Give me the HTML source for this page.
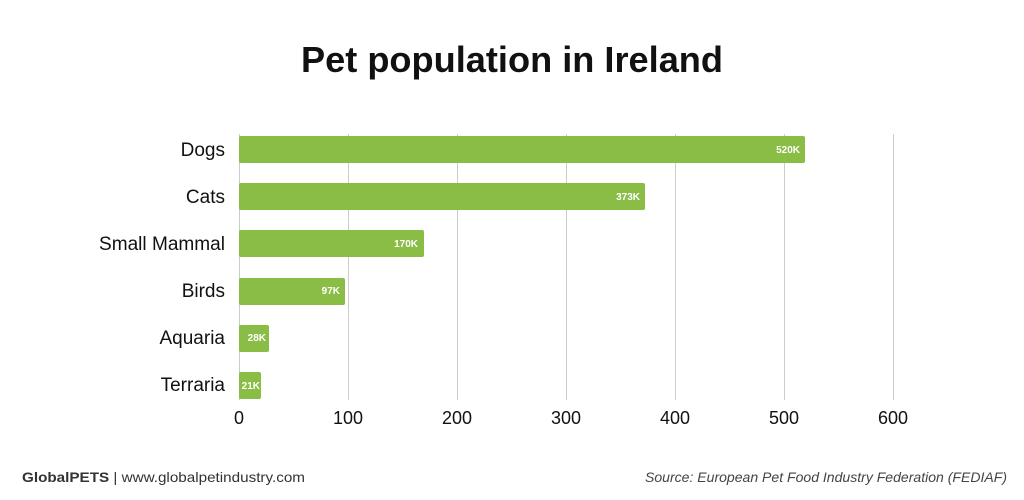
<!DOCTYPE html>
<html><head><style>body{margin:0;background:#fff}svg{display:block}</style></head><body>
<svg width="1024" height="500" xmlns="http://www.w3.org/2000/svg" font-family="Liberation Sans, sans-serif">
<rect width="1024" height="500" fill="#fff"/>
<text x="512" y="72" text-anchor="middle" font-size="36" font-weight="bold" fill="#111" textLength="422" lengthAdjust="spacingAndGlyphs">Pet population in Ireland</text>
<g stroke="#ccc" stroke-width="1">
<line x1="239.5" y1="134" x2="239.5" y2="400"/>
<line x1="348.5" y1="134" x2="348.5" y2="400"/>
<line x1="457.5" y1="134" x2="457.5" y2="400"/>
<line x1="566.5" y1="134" x2="566.5" y2="400"/>
<line x1="675.5" y1="134" x2="675.5" y2="400"/>
<line x1="784.5" y1="134" x2="784.5" y2="400"/>
<line x1="893.5" y1="134" x2="893.5" y2="400"/>
</g>
<g fill="#8abd45">
<rect x="239" y="136" width="566" height="27" rx="2"/>
<rect x="239" y="183" width="406" height="27" rx="2"/>
<rect x="239" y="230" width="185" height="27" rx="2"/>
<rect x="239" y="278" width="106" height="27" rx="2"/>
<rect x="239" y="325" width="30" height="27" rx="2"/>
<rect x="239" y="372" width="22" height="27" rx="2"/>
</g>
<g fill="#fff" font-size="10" font-weight="bold" text-anchor="end">
<text x="800" y="153">520K</text>
<text x="640" y="200">373K</text>
<text x="418" y="247">170K</text>
<text x="340" y="294">97K</text>
<text x="266" y="341">28K</text>
<text x="260" y="389">21K</text>
</g>
<g fill="#111" font-size="19" text-anchor="end">
<text x="225" y="156">Dogs</text>
<text x="225" y="203">Cats</text>
<text x="225" y="250" textLength="126" lengthAdjust="spacingAndGlyphs">Small Mammal</text>
<text x="225" y="297">Birds</text>
<text x="225" y="344">Aquaria</text>
<text x="225" y="391">Terraria</text>
</g>
<g fill="#111" font-size="18" text-anchor="middle">
<text x="239" y="424">0</text>
<text x="348" y="424">100</text>
<text x="457" y="424">200</text>
<text x="566" y="424">300</text>
<text x="675" y="424">400</text>
<text x="784" y="424">500</text>
<text x="893" y="424">600</text>
</g>
<text x="22" y="482" font-size="14" fill="#333" textLength="283" lengthAdjust="spacingAndGlyphs"><tspan font-weight="bold">GlobalPETS</tspan> | www.globalpetindustry.com</text>
<text x="1007" y="482" font-size="14" fill="#444" font-style="italic" text-anchor="end" textLength="362" lengthAdjust="spacingAndGlyphs">Source: European Pet Food Industry Federation (FEDIAF)</text>
</svg>
</body></html>
